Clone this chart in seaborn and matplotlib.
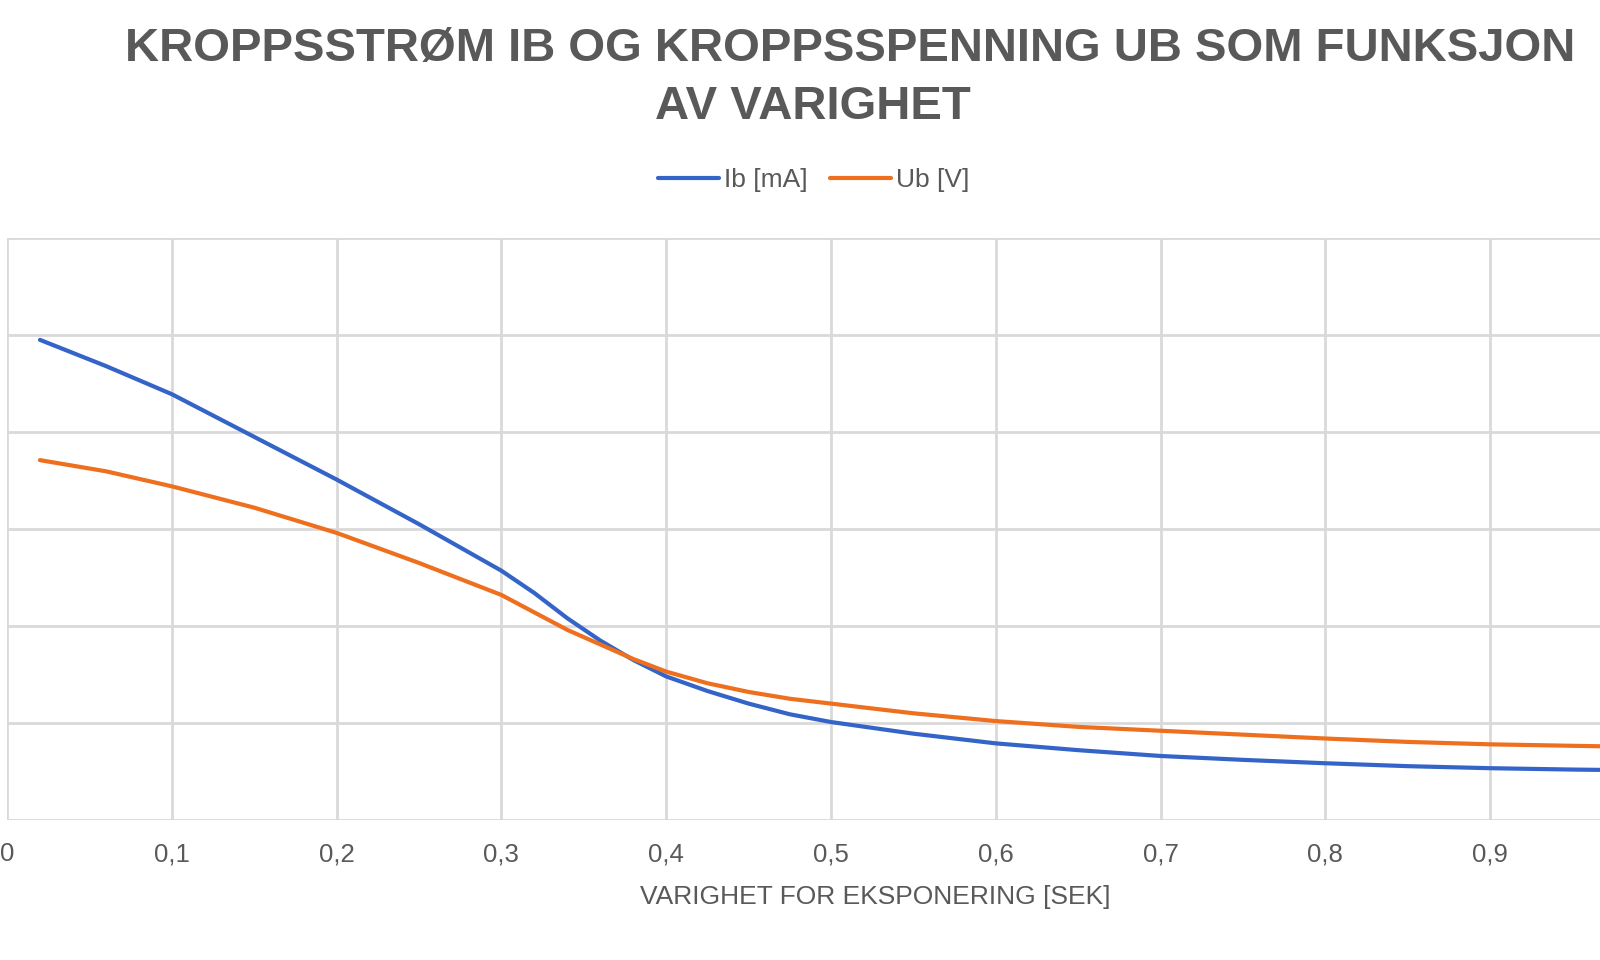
import numpy as np
import pandas as pd
import seaborn as sns
import matplotlib
matplotlib.use("Agg")
import matplotlib.pyplot as plt

# DATA ------------------------------------------------------------------------
varighet = [0.02, 0.06, 0.1, 0.15, 0.2, 0.25, 0.3, 0.32, 0.34, 0.36, 0.38,
            0.4, 0.425, 0.45, 0.475, 0.5, 0.55, 0.6, 0.65, 0.7, 0.75, 0.8,
            0.85, 0.9, 0.95, 1.0]
ib_ma = [495, 468, 439, 395, 351, 305, 257, 234, 208, 185, 165,
         148, 133, 120, 109, 101, 89, 79, 72, 66, 62, 58.5,
         55.5, 53.4, 52, 51]
ub_v = [371, 359.5, 344, 322, 296, 265, 232, 214, 196, 181, 166,
        153, 141, 132, 125, 120, 110, 102, 96, 92, 88, 84,
        80.5, 78, 76.5, 75]
x_ticks = [0, 0.1, 0.2, 0.3, 0.4, 0.5, 0.6, 0.7, 0.8, 0.9]
x_labels = ["0", "0,1", "0,2", "0,3", "0,4", "0,5", "0,6", "0,7", "0,8", "0,9"]

df = pd.DataFrame({
    "x": varighet * 2,
    "y": ib_ma + ub_v,
    "serie": ["Ib [mA]"] * len(varighet) + ["Ub [V]"] * len(varighet),
})

# PLOT ------------------------------------------------------------------------
sns.set_style("white")
plt.rcParams["font.family"] = ["Liberation Sans", "DejaVu Sans"]

farger = {"Ib [mA]": "#3464c8", "Ub [V]": "#ee6f1e"}
grå = "#595959"

fig = plt.figure(figsize=(16, 9.6), dpi=100)
ax = fig.add_axes([7 / 1600, 140 / 960, 1648 / 1600, 582 / 960])

sns.lineplot(data=df, x="x", y="y", hue="serie", palette=farger,
             linewidth=3, ax=ax, legend=False)

ax.set_xlim(0, 1)
ax.set_ylim(0, 600)
ax.set_xticks(x_ticks)
ax.set_xticklabels(x_labels, fontsize=18.5, color=grå)
ax.set_yticks(np.arange(0, 601, 100))
ax.set_yticklabels([])
ax.tick_params(length=0, pad=16)
ax.grid(True, color="#d9d9d9", linewidth=2)
for s in ax.spines.values():
    s.set_visible(False)
ax.set_xlabel("")
ax.set_ylabel("")

fig.text(875 / 1600, 1 - 897 / 960, "VARIGHET FOR EKSPONERING [SEK]",
         ha="center", va="center", fontsize=19, color=grå)

# tittel i to linjer
fig.text(850 / 1600, 1 - 61 / 960,
         "KROPPSSTRØM IB OG KROPPSSPENNING UB SOM FUNKSJON",
         ha="center", va="baseline", fontsize=34, fontweight="bold", color=grå)
fig.text(813 / 1600, 1 - 119 / 960, "AV VARIGHET",
         ha="center", va="baseline", fontsize=34, fontweight="bold", color=grå)

handles = [plt.Line2D([], [], color=farger["Ib [mA]"], linewidth=3),
           plt.Line2D([], [], color=farger["Ub [V]"], linewidth=3)]
fig.legend(handles, ["Ib [mA]", "Ub [V]"], loc="center",
           bbox_to_anchor=(814 / 1600, 1 - 180 / 960), ncol=2, frameon=False,
           fontsize=19, handlelength=2.3, handletextpad=0.2, columnspacing=0.85,
           labelcolor=grå)

fig.savefig("out.png", dpi=100)
